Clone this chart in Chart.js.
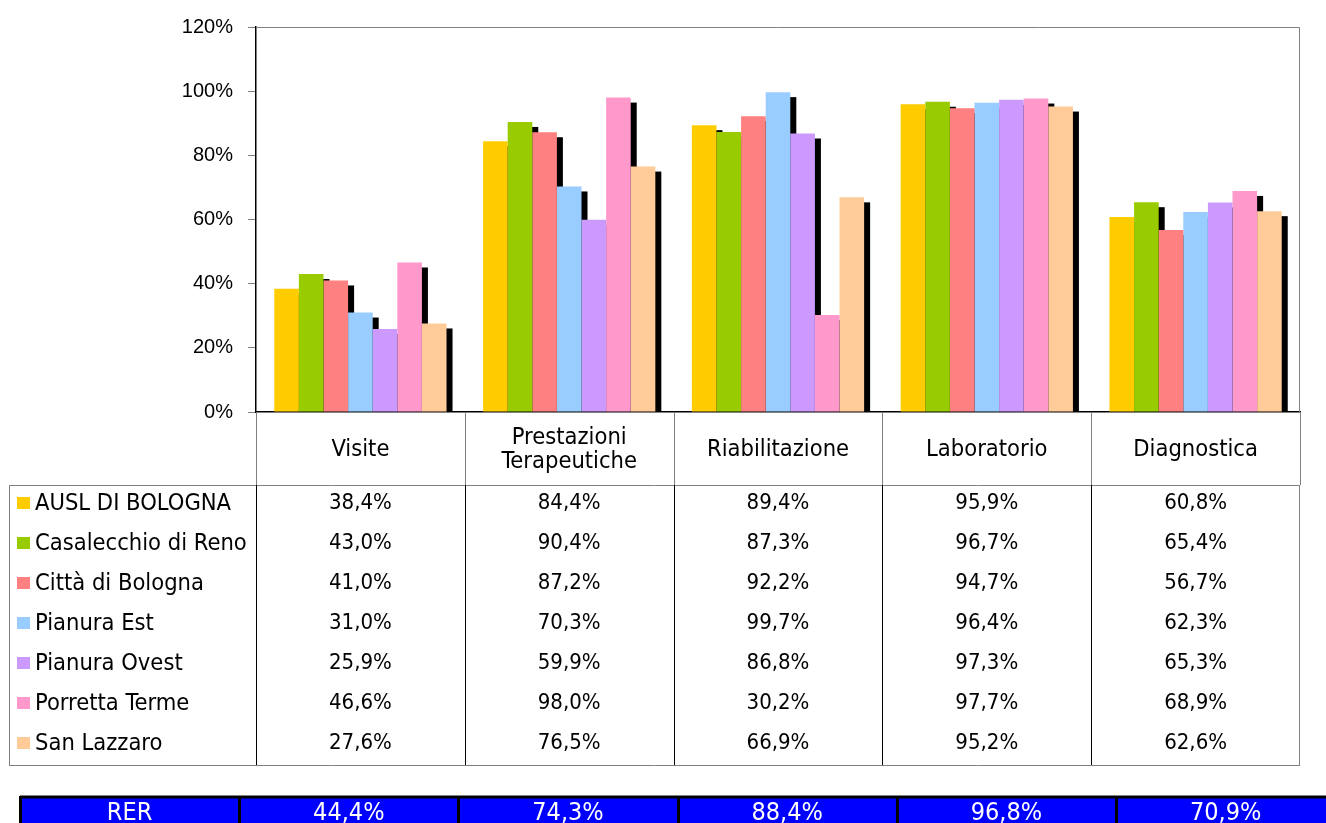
<!DOCTYPE html>
<html>
<head>
<meta charset="utf-8">
<script src="https://cdn.jsdelivr.net/npm/chart.js@4.4.1/dist/chart.umd.min.js"></script>
<style>
  html, body { margin: 0; padding: 0; background: #fff; }
  #wrap { width: 1326px; height: 823px; position: relative; }
</style>
</head>
<body>
<div id="wrap"><canvas id="grafico"></canvas></div>
<script>
// ---------------------------------------------------------------
// DATI
// ---------------------------------------------------------------
const categorie = ['Visite', ['Prestazioni', 'Terapeutiche'], 'Riabilitazione', 'Laboratorio', 'Diagnostica'];
const aziende = ['AUSL DI BOLOGNA', 'Casalecchio di Reno', 'Città di Bologna', 'Pianura Est', 'Pianura Ovest', 'Porretta Terme', 'San Lazzaro'];
const colori = ['#FFCC00', '#99CC00', '#FF8080', '#99CCFF', '#CC99FF', '#FF99CC', '#FFCC99'];

const ausl         = [38.4, 84.4, 89.4, 95.9, 60.8];
const casalecchio  = [43.0, 90.4, 87.3, 96.7, 65.4];
const cittaBologna = [41.0, 87.2, 92.2, 94.7, 56.7];
const pianuraEst   = [31.0, 70.3, 99.7, 96.4, 62.3];
const pianuraOvest = [25.9, 59.9, 86.8, 97.3, 65.3];
const porretta     = [46.6, 98.0, 30.2, 97.7, 68.9];
const sanLazzaro   = [27.6, 76.5, 66.9, 95.2, 62.6];
const serie = [ausl, casalecchio, cittaBologna, pianuraEst, pianuraOvest, porretta, sanLazzaro];

const rerEtichetta = 'RER';
const rer = [44.4, 74.3, 88.4, 96.8, 70.9];

const tickY = [0, 20, 40, 60, 80, 100, 120];

// formato italiano: 38,4%
const fmt = v => v.toFixed(1).replace('.', ',') + '%';

const FONT_TAB = '"DejaVu Sans Condensed", "DejaVu Sans", sans-serif';

// ---------------------------------------------------------------
// PLUGIN: ombra nera dietro le barre + bordo area grafico
// ---------------------------------------------------------------
const ombre = {
  id: 'ombre',
  beforeDatasetsDraw(chart) {
    const ctx = chart.ctx;
    const a = chart.chartArea;
    ctx.save();
    // bordo grigio sopra e a destra
    ctx.strokeStyle = '#808080';
    ctx.lineWidth = 1;
    ctx.beginPath();
    ctx.moveTo(a.left, a.top + 0.5);
    ctx.lineTo(a.right - 0.5, a.top + 0.5);
    ctx.lineTo(a.right - 0.5, a.bottom);
    ctx.stroke();

    ctx.fillStyle = '#000';
    chart.data.datasets.forEach((ds, i) => {
      chart.getDatasetMeta(i).data.forEach(bar => {
        const { x, y, base, width } = bar.getProps(['x', 'y', 'base', 'width'], true);
        const h = base - y - 5;
        if (h > 0) ctx.fillRect(x - width / 2 + 6, y + 5, width, h);
      });
    });
    ctx.restore();
  }
};

// ---------------------------------------------------------------
// PLUGIN: tabella dati sotto il grafico + riga RER
// ---------------------------------------------------------------
const tabella = {
  id: 'tabella',
  afterDraw(chart) {
    const ctx = chart.ctx;
    const xs = chart.scales.x;
    const area = chart.chartArea;
    const n = categorie.length;
    const colW = xs.width / n;
    const top = area.bottom;
    const headH = 73, rowH = 40;
    const dataTop = top + headH;
    const dataBottom = dataTop + rowH * serie.length;
    const legLeft = 9;

    const linea = (x1, y1, x2, y2) => {
      ctx.beginPath();
      ctx.moveTo(x1, y1);
      ctx.lineTo(x2, y2);
      ctx.stroke();
    };

    ctx.save();
    ctx.lineWidth = 1;

    // righe intestazione (grigie)
    ctx.strokeStyle = '#808080';
    for (let i = 0; i <= n; i++) {
      const x = Math.round(xs.left + i * colW) + 0.5;
      linea(x, top, x, dataTop);
    }
    linea(legLeft, dataTop + 0.5, xs.right, dataTop + 0.5);
    linea(legLeft, dataBottom + 0.5, xs.right, dataBottom + 0.5);
    linea(legLeft + 0.5, dataTop, legLeft + 0.5, dataBottom);
    linea(Math.round(xs.right) - 0.5, dataTop, Math.round(xs.right) - 0.5, dataBottom + 1);

    // separatori colonne dati (neri)
    ctx.strokeStyle = '#000';
    for (let i = 0; i < n; i++) {
      const x = Math.round(xs.left + i * colW) + 0.5;
      linea(x, dataTop, x, dataBottom);
    }

    // testo intestazioni
    ctx.fillStyle = '#000';
    ctx.font = '23.5px ' + FONT_TAB;
    ctx.textAlign = 'center';
    ctx.textBaseline = 'middle';
    categorie.forEach((c, i) => {
      const cx = xs.getPixelForValue(i);
      const cy = top + 38;
      if (Array.isArray(c)) {
        ctx.fillText(c[0], cx, cy - 12);
        ctx.fillText(c[1], cx, cy + 12);
      } else {
        ctx.fillText(c, cx, cy);
      }
    });

    // righe dati con legenda
    serie.forEach((vals, r) => {
      const cy = dataTop + 17 + r * rowH;
      ctx.fillStyle = colori[r];
      ctx.fillRect(17, cy - 5, 13, 12);
      ctx.fillStyle = '#000';
      ctx.textAlign = 'left';
      ctx.font = '23.5px ' + FONT_TAB;
      ctx.fillText(aziende[r], 35, cy + 2);
      ctx.textAlign = 'center';
      ctx.font = '22px ' + FONT_TAB;
      vals.forEach((v, i) => ctx.fillText(fmt(v), xs.getPixelForValue(i), cy + 1));
    });

    // riga RER (tabella separata)
    const rTop = 796, rLeft = 20, rW = 219.2;
    ctx.fillStyle = '#0000FF';
    ctx.fillRect(rLeft, rTop, chart.width - rLeft, chart.height - rTop);
    ctx.strokeStyle = '#000';
    ctx.lineWidth = 3;
    linea(rLeft, rTop + 1, chart.width, rTop + 1);
    for (let i = 0; i <= rer.length; i++) {
      const x = Math.round(rLeft + i * rW) + 0.5;
      linea(x, rTop, x, chart.height);
    }
    ctx.fillStyle = '#fff';
    ctx.textAlign = 'center';
    ctx.font = '25px ' + FONT_TAB;
    const rcy = rTop + 17;
    ctx.fillText(rerEtichetta, rLeft + rW / 2, rcy);
    rer.forEach((v, i) => ctx.fillText(fmt(v), rLeft + rW * (i + 1.5), rcy));

    ctx.restore();
  }
};

// ---------------------------------------------------------------
// GRAFICO
// ---------------------------------------------------------------
const ctx = document.getElementById('grafico').getContext('2d');
new Chart(ctx, {
  type: 'bar',
  data: {
    labels: categorie,
    datasets: serie.map((vals, i) => ({
      label: aziende[i],
      data: vals,
      backgroundColor: colori[i],
      borderWidth: 0,
      barPercentage: 1,
      categoryPercentage: 0.825
    }))
  },
  options: {
    responsive: true,
    maintainAspectRatio: false,
    animation: false,
    layout: { padding: { top: 25, right: 26, bottom: 411, left: 0 } },
    plugins: {
      legend: { display: false },
      tooltip: { enabled: false }
    },
    scales: {
      x: {
        grid: { display: false },
        ticks: { display: false },
        border: { display: true, color: '#000', width: 1.5 },
        afterFit: s => { s.height = 0; }
      },
      y: {
        min: 0,
        max: 120,
        afterBuildTicks: s => { s.ticks = tickY.map(v => ({ value: v })); },
        afterFit: s => { s.width = 256; },
        grid: { drawOnChartArea: false, drawTicks: true, tickLength: 8, color: '#808080' },
        border: { display: true, color: '#000', width: 1.5 },
        ticks: {
          padding: 15,
          color: '#000',
          font: { family: '"Liberation Sans", Arial, sans-serif', size: 20 },
          callback: v => v + '%'
        }
      }
    }
  },
  plugins: [ombre, tabella]
});
</script>
</body>
</html>
